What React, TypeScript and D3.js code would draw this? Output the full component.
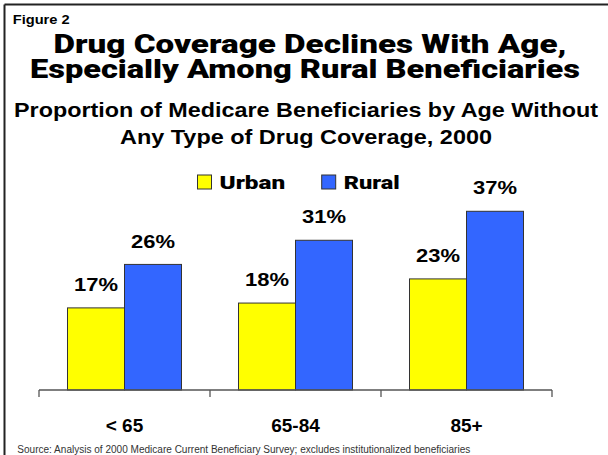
import React from "react";
import * as d3 from "d3";

const categories = ["< 65", "65-84", "85+"];
const seriesNames = ["Urban", "Rural"];
const urbanValues = [17, 18, 23];
const ruralValues = [26, 31, 37];
const seriesColors = ["#FFFF00", "#3366FF"];

const W = 608;
const H = 455;

const HEAVY = "Roboto, 'Liberation Sans', Arial, sans-serif";
const ARIAL = "'Liberation Sans', Arial, Helvetica, sans-serif";

export default function App() {
  const x0 = d3.scaleBand<string>().domain(categories).range([39, 552]).padding(0);
  const x1 = d3
    .scaleBand<string>()
    .domain(seriesNames)
    .range([0, x0.bandwidth()])
    .paddingInner(0)
    .paddingOuter(0.5);
  const y = d3.scaleLinear().domain([0, 40]).range([390, 196.8]);

  const values = [urbanValues, ruralValues];
  const tickXs = [...categories.map((c) => x0(c) as number), x0.range()[1]];

  return (
    <div style={{ position: "absolute", left: 0, top: 0 }}>
      <svg width={W} height={H} style={{ display: "block", background: "#fff" }}>
        <rect x={0} y={0} width={W} height={H} fill="#fff" />
        {/* frame */}
        <line x1={4.5} y1={4.5} x2={W} y2={4.5} stroke="#222" strokeWidth={2} />
        <line x1={4.5} y1={4.5} x2={4.5} y2={H} stroke="#222" strokeWidth={2} />

        <text x={12.7} y={24} fontFamily={ARIAL} fontWeight="bold" fontSize={13} textLength={57} lengthAdjust="spacingAndGlyphs">
          Figure 2
        </text>

        <text x={310} y={53} textAnchor="middle" fontFamily={HEAVY} fontWeight={900} fontSize={25} textLength={513} lengthAdjust="spacingAndGlyphs">
          Drug Coverage Declines With Age,
        </text>
        <text x={305} y={78} textAnchor="middle" fontFamily={HEAVY} fontWeight={900} fontSize={25} textLength={550} lengthAdjust="spacingAndGlyphs">
          Especially Among Rural Beneficiaries
        </text>
        <text x={306} y={116.5} textAnchor="middle" fontFamily={ARIAL} fontWeight="bold" fontSize={21} textLength={584} lengthAdjust="spacingAndGlyphs">
          Proportion of Medicare Beneficiaries by Age Without
        </text>
        <text x={306} y={144} textAnchor="middle" fontFamily={ARIAL} fontWeight="bold" fontSize={21} textLength={372} lengthAdjust="spacingAndGlyphs">
          Any Type of Drug Coverage, 2000
        </text>

        {/* legend */}
        {seriesNames.map((s, i) => {
          const lx = [197.5, 321.7][i];
          const tw = [65.7, 56][i];
          return (
            <g key={s}>
              <rect x={lx} y={175} width={14} height={14} fill={seriesColors[i]} stroke="#333" strokeWidth={1} />
              <text x={lx + 22} y={189} fontFamily={HEAVY} fontWeight={900} fontSize={18.5} textLength={tw} lengthAdjust="spacingAndGlyphs">
                {s}
              </text>
            </g>
          );
        })}

        {/* bars */}
        {categories.map((c, ci) => (
          <g key={c} transform={`translate(${x0(c)},0)`}>
            {seriesNames.map((s, si) => {
              const v = values[si][ci];
              const bx = x1(s) as number;
              const bw = x1.bandwidth();
              return (
                <g key={s}>
                  <rect x={bx} y={y(v)} width={bw} height={y(0) - y(v)} fill={seriesColors[si]} stroke="#333" strokeWidth={1} />
                  <text x={bx + bw / 2} y={y(v) - 16.8} textAnchor="middle" fontFamily={ARIAL} fontWeight="bold" fontSize={19} textLength={44} lengthAdjust="spacingAndGlyphs">
                    {v}%
                  </text>
                </g>
              );
            })}
          </g>
        ))}

        {/* axis */}
        <line x1={x0.range()[0]} y1={y(0)} x2={x0.range()[1]} y2={y(0)} stroke="#555" strokeWidth={1.3} />
        {tickXs.map((tx, i) => (
          <line key={i} x1={tx} y1={y(0)} x2={tx} y2={y(0) + 7} stroke="#555" strokeWidth={1.3} />
        ))}
        {categories.map((c) => (
          <text key={c} x={(x0(c) as number) + x0.bandwidth() / 2} y={431.7} textAnchor="middle" fontFamily={ARIAL} fontWeight="bold" fontSize={19}>
            {c}
          </text>
        ))}

        <text x={17.3} y={452.5} fontFamily={ARIAL} fontSize={10} fill="#333" textLength={453} lengthAdjust="spacingAndGlyphs">
          Source:  Analysis of 2000 Medicare Current Beneficiary Survey; excludes institutionalized beneficiaries
        </text>
      </svg>
    </div>
  );
}
